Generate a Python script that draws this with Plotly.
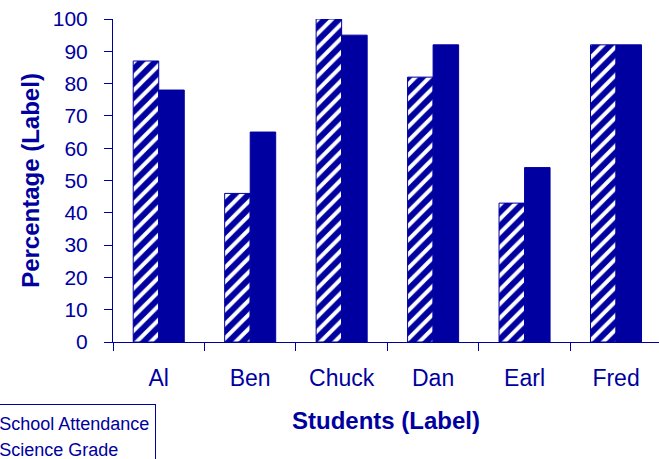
import plotly.graph_objects as go

# Per-student percentages
students = ["Al", "Ben", "Chuck", "Dan", "Earl", "Fred"]
attendance = [87, 46, 100, 82, 43, 92]
science_grade = [78, 65, 95, 92, 54, 92]
y_ticks = list(range(0, 101, 10))

NAVY = "#0000A0"
FONT = "Liberation Sans, Arial, sans-serif"

fig = go.Figure()
fig.add_trace(go.Bar(
    name="School Attendance",
    x=students,
    y=attendance,
    marker=dict(
        color="white",
        pattern=dict(shape="/", fgcolor=NAVY, bgcolor="white", fgopacity=1,
                     size=10, solidity=0.6),
        line=dict(color=NAVY, width=1),
    ),
))
fig.add_trace(go.Bar(
    name="Science Grade",
    x=students,
    y=science_grade,
    marker=dict(color=NAVY, line=dict(color=NAVY, width=1)),
))

fig.update_layout(
    width=659,
    height=459,
    margin=dict(l=113, r=0, t=19, b=117, autoexpand=False),
    paper_bgcolor="white",
    plot_bgcolor="white",
    barmode="group",
    bargap=0.442,
    bargroupgap=0,
    font=dict(family=FONT, color=NAVY),
    showlegend=True,
    legend=dict(
        x=-0.2835,
        y=-0.191,
        xanchor="left",
        yanchor="top",
        entrywidth=175,
        entrywidthmode="pixels",
        bordercolor=NAVY,
        borderwidth=1,
        bgcolor="white",
        font=dict(family=FONT, size=18, color=NAVY),
        tracegroupgap=0,
    ),
)

fig.update_xaxes(
    range=[-0.5, 5.47],
    showline=True,
    linecolor=NAVY,
    linewidth=1,
    ticks="outside",
    tickson="boundaries",
    ticklen=8,
    tickcolor=NAVY,
    tickfont=dict(family=FONT, size=23, color=NAVY),
    ticklabelstandoff=15,
    showgrid=False,
    title=dict(text="<b>Students (Label)</b>", font=dict(family=FONT, size=24, color=NAVY), standoff=22),
)

fig.update_yaxes(
    range=[0, 100],
    tickvals=y_ticks,
    showline=True,
    linecolor=NAVY,
    linewidth=1,
    ticks="outside",
    ticklen=8,
    tickcolor=NAVY,
    tickfont=dict(family=FONT, size=21, color=NAVY),
    ticklabelstandoff=12,
    showgrid=False,
    zeroline=False,
    title=dict(text="<b>Percentage (Label)</b>", font=dict(family=FONT, size=24, color=NAVY), standoff=6),
)

fig.write_html("out.html")
